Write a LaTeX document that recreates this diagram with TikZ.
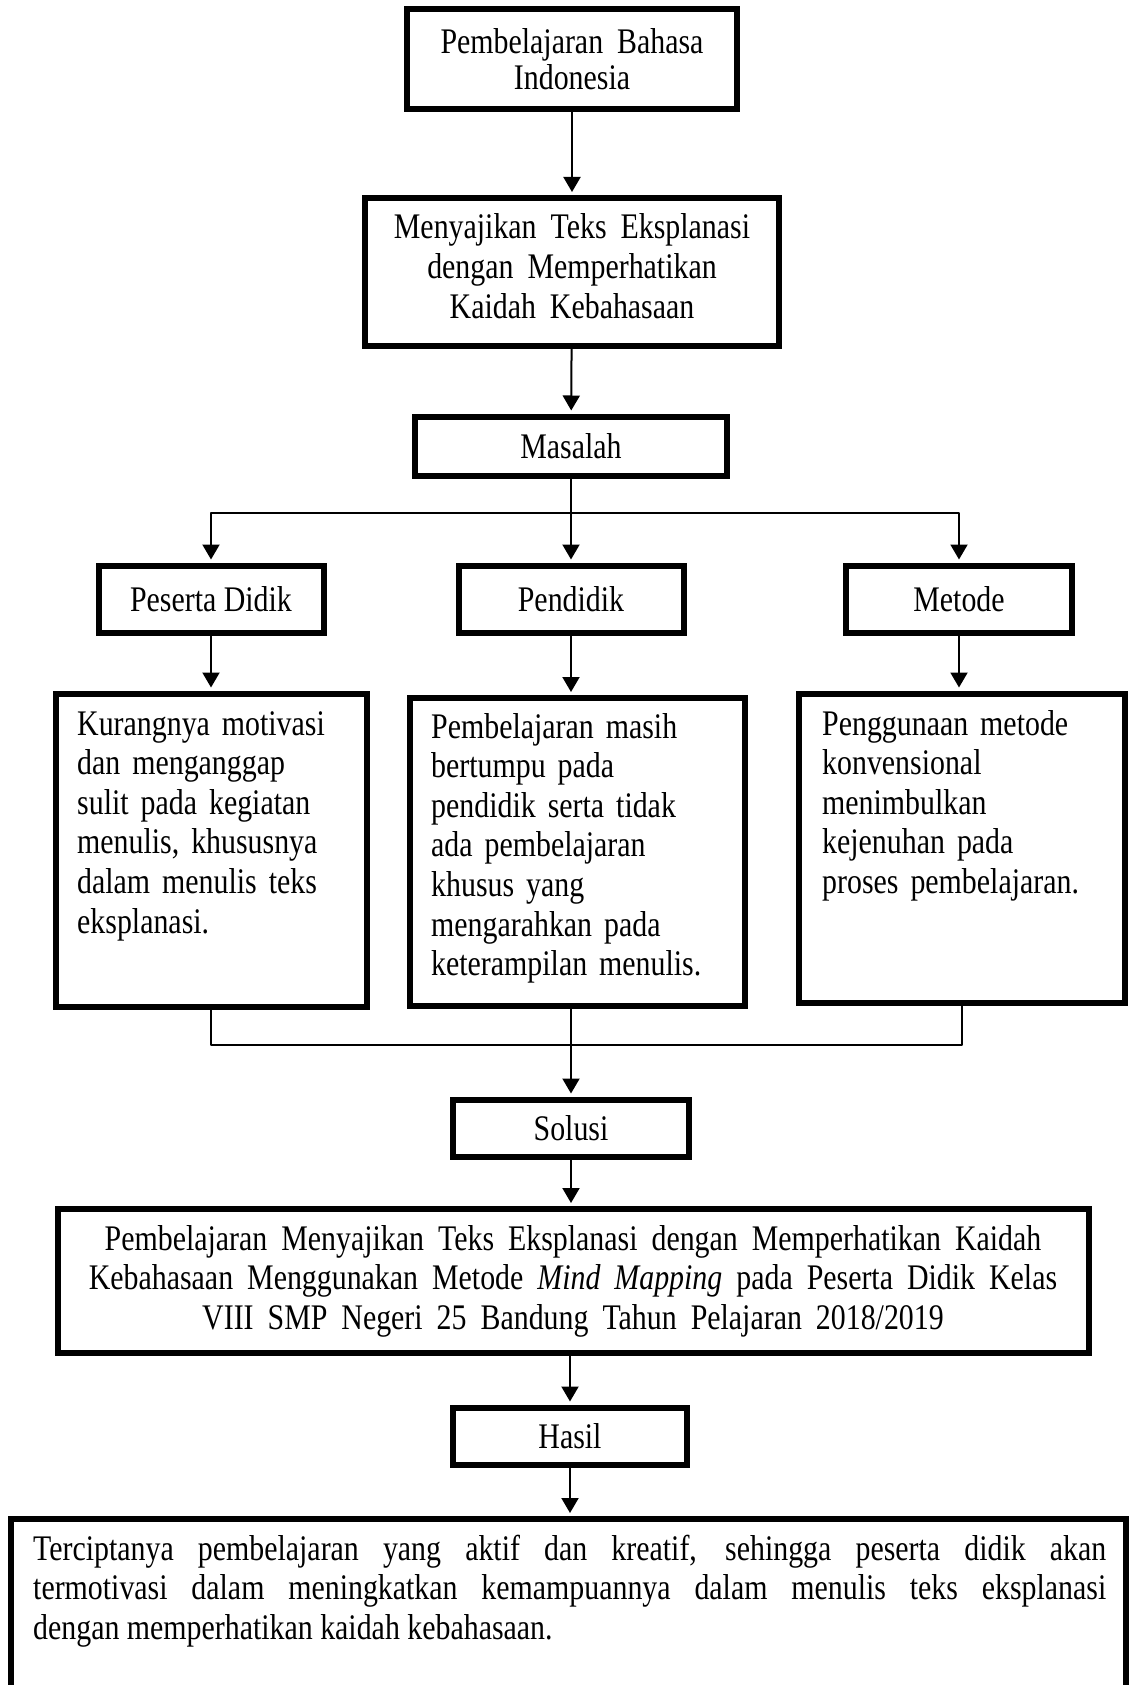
\documentclass[tikz,border=0pt]{standalone}
\usepackage{fontspec}
\setmainfont[FakeStretch=0.83]{Liberation Serif}
\usetikzlibrary{arrows.meta}

\begin{document}
\begin{tikzpicture}[line cap=round,line join=round,>={Triangle[length=15pt,width=17pt]},x=1pt,y=-1pt,
		font=\fontsize{36}{39.6}\selectfont,
		kotak/.style={draw,line width=6pt,line join=miter,inner sep=0pt,align=center},
		renggang/.style={font={\fontsize{36}{#1}\selectfont\spaceskip=14pt\relax}},
		isi/.style={inner sep=0pt,anchor=base west,align=left},
		panah/.style={->,line width=2pt,shorten >=3pt},
		garis/.style={line width=2pt}]
	\clip(0,0) rectangle (1132,1685);
		\node[kotak,renggang=36,minimum width=330pt,minimum height=100pt] (bahasa) at (572,59) {Pembelajaran Bahasa\\Indonesia};
		\node[kotak,renggang=39.6,minimum width=414pt,minimum height=148pt] (teks) at (572,272) {Menyajikan Teks Eksplanasi\\dengan Memperhatikan\\Kaidah Kebahasaan\strut};
		\node[kotak,minimum width=312pt,minimum height=59pt] (masalah) at (571,446) {Masalah};
		\node[kotak,minimum width=225pt,minimum height=67pt] (peserta) at (211,599) {Peserta Didik};
		\node[kotak,minimum width=225pt,minimum height=67pt] (pendidik) at (571,599) {Pendidik};
		\node[kotak,minimum width=226pt,minimum height=67pt] (metode) at (959,599) {Metode};
		\node[kotak,minimum width=311pt,minimum height=313pt] (kurang) at (211,850) {};
		\node[kotak,minimum width=335pt,minimum height=308pt] (tumpu) at (577,852) {};
		\node[kotak,minimum width=326pt,minimum height=309pt] (jenuh) at (962,848) {};
			\node[isi,text width=290pt] (kurangisi) at (77,735) {Kurangnya motivasi\\dan menganggap\\sulit pada kegiatan\\menulis, khususnya\\dalam menulis teks\\eksplanasi.};
			\node[isi,text width=310pt] (tumpuisi) at (431,738) {Pembelajaran masih\\bertumpu pada\\pendidik serta tidak\\ada pembelajaran\\khusus yang\\mengarahkan pada\\keterampilan menulis.};
			\node[isi,text width=300pt] (jenuhisi) at (822,735) {Penggunaan metode\\konvensional\\menimbulkan\\kejenuhan pada\\proses pembelajaran.};
		\node[kotak,minimum width=236pt,minimum height=57pt] (solusi) at (571,1128) {Solusi};
		\node[kotak,renggang=39.6,minimum width=1031pt,minimum height=144pt] (judul) at (573,1281) {Pembelajaran Menyajikan Teks Eksplanasi dengan Memperhatikan Kaidah\\Kebahasaan Menggunakan Metode \textit{Mind Mapping} pada Peserta Didik Kelas\\VIII SMP Negeri 25 Bandung Tahun Pelajaran 2018/2019};
		\node[kotak,minimum width=234pt,minimum height=57pt] (hasil) at (570,1436) {Hasil};
		\node[kotak,minimum width=1115pt,minimum height=181pt] (akhir) at (568.5,1609.5) {};
			\node[isi,text width=1073pt,align=justify] (akhirisi) at (33,1560) {Terciptanya pembelajaran yang aktif dan kreatif, sehingga peserta didik akan\linebreak termotivasi dalam meningkatkan kemampuannya dalam menulis teks eksplanasi\linebreak dengan memperhatikan kaidah kebahasaan.};
		\coordinate (cabang) at (571,513);
		\coordinate (gabung) at (571,1045);
		\draw[panah] (bahasa) -- (teks);
		\draw[panah] (teks) -- (masalah);
		\draw[panah] (masalah) -- (pendidik);
		\draw[panah] (cabang) -| (peserta);
		\draw[panah] (cabang) -| (metode);
		\draw[panah] (peserta) -- (kurang);
		\draw[panah] (pendidik) -- (pendidik |- tumpu.north);
		\draw[panah] (metode) -- (metode |- jenuh.north);
		\draw[garis] (kurang) |- (gabung) -| (jenuh);
		\draw[panah] (tumpu.south -| solusi.north) -- (solusi);
		\draw[panah] (solusi) -- (solusi |- judul.north);
		\draw[panah] (judul.south -| hasil.north) -- (hasil);
		\draw[panah] (hasil) -- (hasil |- akhir.north);
\end{tikzpicture}
\end{document}
